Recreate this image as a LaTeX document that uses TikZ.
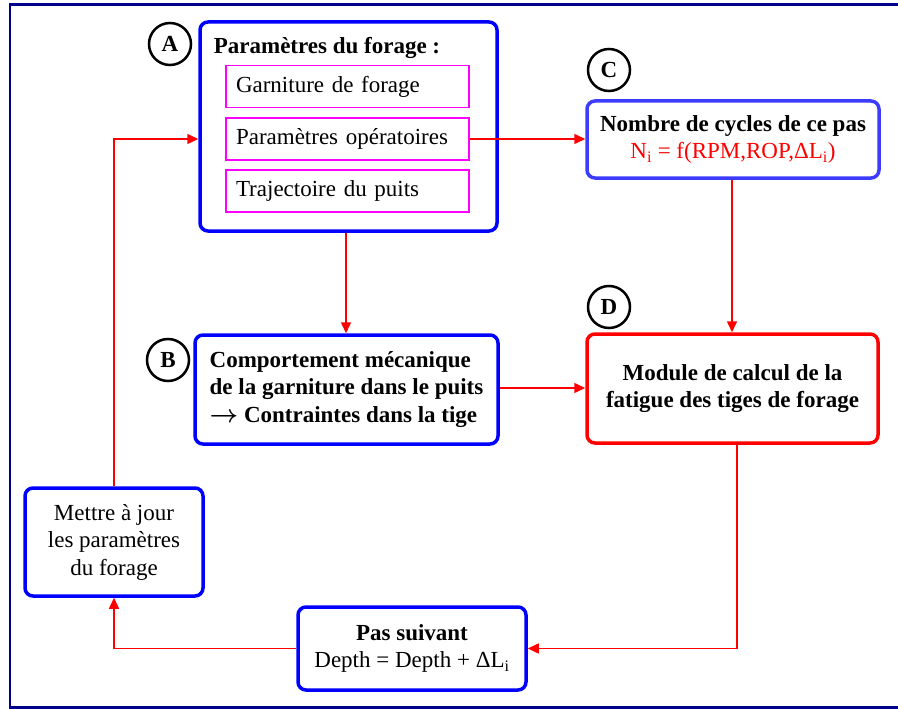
\documentclass[tikz,border=0pt]{standalone}
\usepackage{fontspec}
\setmainfont{Liberation Serif}
\usepackage{tikz}
\usetikzlibrary{arrows.meta}
\definecolor{navyframe}{RGB}{0,0,140}
\definecolor{paleblue}{RGB}{60,60,255}
\definecolor{itemmagenta}{RGB}{255,0,255}
\definecolor{linkred}{RGB}{255,0,0}

\begin{document}
\begin{tikzpicture}
  [x=1pt,y=-1pt,
   block/.style={rectangle,rounded corners=8pt,draw=blue,line width=3.5pt,
                 fill=white,align=center,inner sep=0pt},
   item/.style={rectangle,draw=itemmagenta,line width=1.5pt,align=left,
                minimum width=243pt,minimum height=42pt,text width=223pt,inner sep=0pt},
   letter/.style={circle,draw=black,line width=2.5pt,minimum size=42pt,
                  inner sep=0pt,font=\bfseries},
   link/.style={linkred,line width=1.5pt,-{Triangle[length=11pt,width=10pt]}}]
  \useasboundingbox (0,0) rectangle (898,709);
  \fontsize{23}{27.5}\selectfont
  \draw[navyframe,line width=2.2pt] (10,4.5) rectangle (910,707.5);
  % parameter block
  \node[block,minimum width=297pt,minimum height=209pt] (A) at (348.5,126.5) {};
  \node[font=\bfseries] (title) at (327,48) {Paramètres du forage :};
  \node[item] (items1) at (347.5,86.5) {Garniture de forage};
  \node[item] (items2) at (347.5,139) {Paramètres opératoires};
  \node[item] (items3) at (347.5,191) {Trajectoire du puits};
  % other blocks
  \node[block,minimum width=303pt,minimum height=109pt,align=left,font=\bfseries]
    (B) at (346.5,389.5) {Comportement mécanique\\de la garniture dans le puits\\{\boldmath$\rightarrow$} Contraintes dans la tige};
  \node[block,draw=paleblue,minimum width=292pt,minimum height=77pt] (C) at (733,139.5)
    {\textbf{Nombre de cycles de ce pas}\\\textcolor{linkred}{N\textsubscript{i} = f(RPM,ROP,ΔL\textsubscript{i})}};
  \node[block,draw=linkred,minimum width=291pt,minimum height=109pt,font=\bfseries] (D) at (732.5,388.5)
    {Module de calcul de la\\fatigue des tiges de forage};
  \node[block,minimum width=178pt,minimum height=108pt] (update) at (114,542)
    {Mettre à jour\\les paramètres\\du forage};
  \node[block,minimum width=228pt,minimum height=83pt] (next) at (412,648.5)
    {\textbf{Pas suivant}\\Depth = Depth + ΔL\textsubscript{i}};
  % letters
  \node[letter] (la) at (170,44) {A};
  \node[letter] (lb) at (168,360) {B};
  \node[letter] (lc) at (609,70) {C};
  \node[letter] (ld) at (609,307) {D};
  % connectors
  \draw[link] (items2.east) -- (items2.east -| C.west);
  \draw[link] (A.south -| 346,0) -- (B.north -| 346,0);
  \draw[link] (B.east |- 0,388) -- (D.west |- 0,388);
  \draw[link] (C.south -| 732,0) -- (D.north -| 732,0);
  \draw[link] (D.south -| 737,0) |- (next.east);
  \draw[link] (next.west) -| (update.south);
  \draw[link] (update.north) |- (A.west |- items2);
\end{tikzpicture}
\end{document}
